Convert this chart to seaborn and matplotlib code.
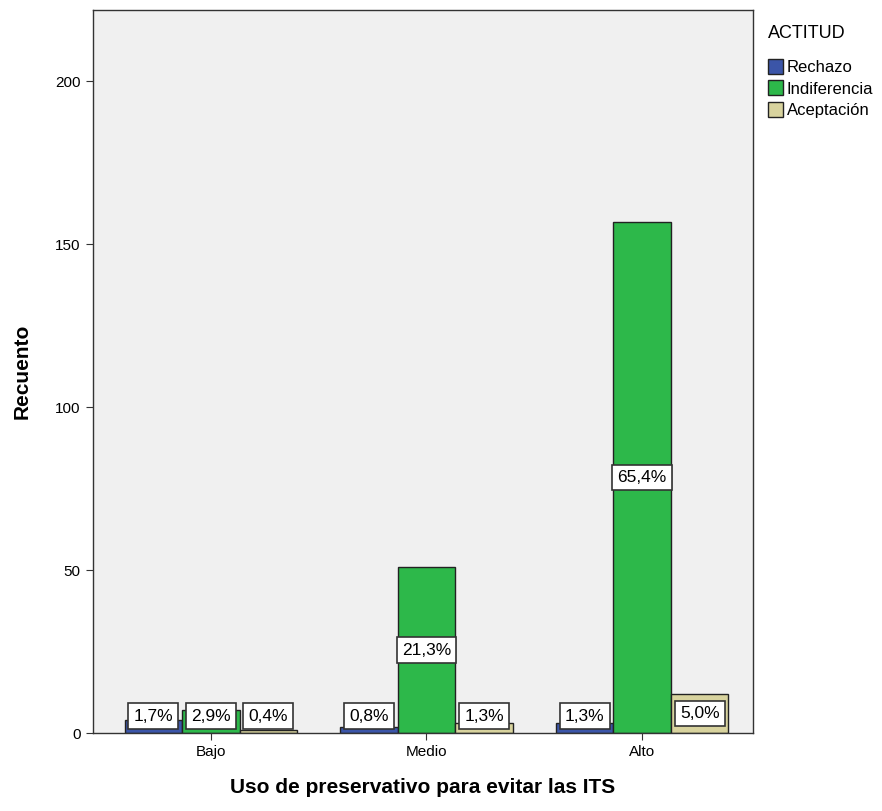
import matplotlib
matplotlib.use("Agg")
import matplotlib.pyplot as plt
import seaborn as sns
import pandas as pd

# Counts per usage level and attitude
niveles = ["Bajo", "Medio", "Alto"]
actitudes = ["Rechazo", "Indiferencia", "Aceptación"]
rechazo = [4, 2, 3]
indiferencia = [7, 51, 157]
aceptacion = [1, 3, 12]
porcentajes = {
    "Rechazo": ["1,7%", "0,8%", "1,3%"],
    "Indiferencia": ["2,9%", "21,3%", "65,4%"],
    "Aceptación": ["0,4%", "1,3%", "5,0%"],
}

df = pd.DataFrame({
    "nivel": niveles * 3,
    "actitud": ["Rechazo"] * 3 + ["Indiferencia"] * 3 + ["Aceptación"] * 3,
    "recuento": rechazo + indiferencia + aceptacion,
})

colores = {"Rechazo": "#3B55A8", "Indiferencia": "#2DB84A", "Aceptación": "#D8D39E"}

sns.set_style("white")
plt.rcParams["font.family"] = ["Liberation Sans", "DejaVu Sans"]
plt.rcParams["text.color"] = "black"
plt.rcParams["axes.labelcolor"] = "black"
plt.rcParams["xtick.color"] = "black"
plt.rcParams["ytick.color"] = "black"

fig = plt.figure(figsize=(8.82, 8.11), dpi=100)
ax = fig.add_axes([0.105, 0.096, 0.749, 0.892])
ax.set_facecolor("#F0F0F0")

sns.barplot(data=df, x="nivel", y="recuento", hue="actitud", order=niveles,
            hue_order=actitudes, palette=colores, width=0.8, ax=ax,
            edgecolor="#222222", linewidth=1.0, errorbar=None, saturation=1)

ax.set_ylim(0, 222)
ax.set_xlim(-0.548, 2.515)
ax.set_yticks([0, 50, 100, 150, 200])

# Percentage labels centred on each bar
for container, act in zip(ax.containers, actitudes):
    for bar, txt in zip(container, porcentajes[act]):
        cx = bar.get_x() + bar.get_width() / 2
        cy = max(bar.get_height() / 2, 5.2)
        ax.text(cx, cy, txt, ha="center", va="center", fontsize=12.5,
                color="black",
                bbox=dict(boxstyle="square,pad=0.3", facecolor="white",
                          edgecolor="#333333", linewidth=1.2))

for s in ax.spines.values():
    s.set_color("#333333")
    s.set_linewidth(1.0)

ax.tick_params(axis="both", which="both", direction="out", length=5,
               color="#333333", labelsize=11, left=True, bottom=True)
ax.set_ylabel("Recuento", fontsize=15, fontweight="bold", labelpad=17)
ax.set_xlabel("Uso de preservativo para evitar las ITS", fontsize=15,
              fontweight="bold", labelpad=14)

handles, labels = ax.get_legend_handles_labels()
leg = ax.legend(handles, labels, title="ACTITUD", loc="upper left",
                bbox_to_anchor=(1.005, 0.995), frameon=False, fontsize=12,
                title_fontsize=13, handlelength=0.9, handleheight=1.0,
                handletextpad=0.2, labelspacing=0.33, borderaxespad=0.3)
leg._legend_box.align = "left"
leg._legend_box.sep = 12

fig.savefig("out.png", dpi=100)
